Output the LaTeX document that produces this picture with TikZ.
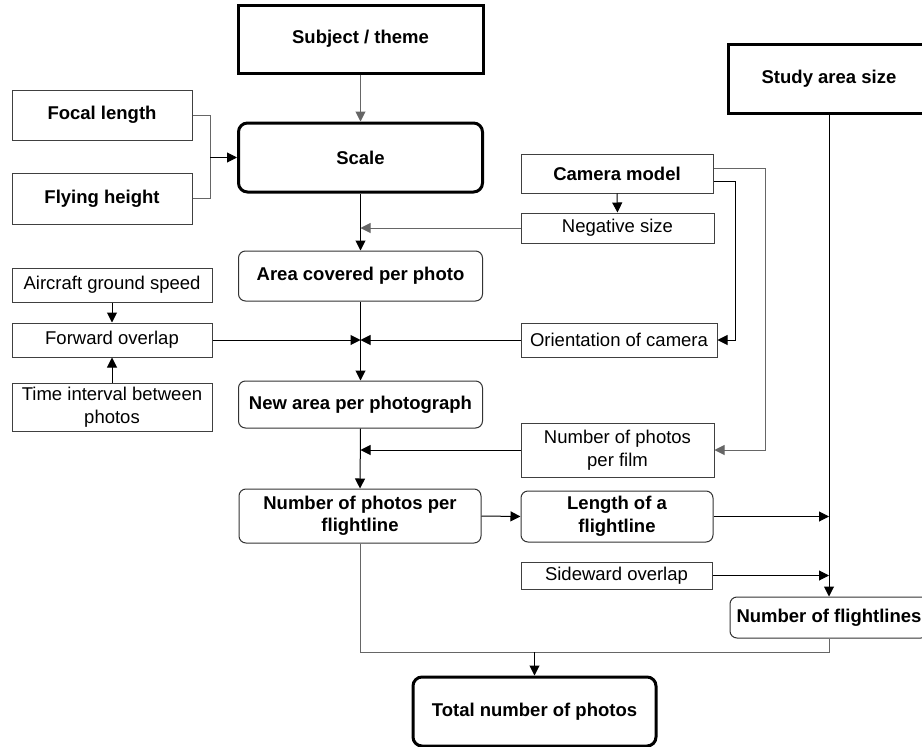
\documentclass[tikz,border=0pt]{standalone}
\usepackage{fontspec}
\setmainfont{Liberation Sans}
\usetikzlibrary{arrows.meta}
\begin{document}
\begin{tikzpicture}[x=1pt,y=-1pt,
  every node/.style={inner sep=0pt,align=center,font=\fontsize{18.5}{22.5}\selectfont},
  thinbox/.style={draw=black!75,line width=1pt},
  thickbox/.style={draw=black,line width=3pt},
  rbox/.style={draw=black!80,line width=1pt,rounded corners=7pt},
  rthick/.style={draw=black,line width=3pt,rounded corners=9pt},
  bf/.style={font=\fontsize{18.5}{22.5}\selectfont\bfseries},
  conn/.style={line width=1pt,draw=black},
  gconn/.style={line width=1pt,draw=black!60},
  arr/.style={-{Triangle[length=10pt,width=10pt]}}
]
\useasboundingbox (0,0) rectangle (922,747);
\fill[white] (0,0) rectangle (922,747);
% nodes
\node[thickbox,bf,minimum width=245,minimum height=68] (subj) at (360.5,39) {Subject / theme};
\node[thinbox,bf,minimum width=180,minimum height=50] (focal) at (102,115) {Focal length};
\node[thinbox,bf,minimum width=180,minimum height=51] (flying) at (102,198.5) {Flying height};
\node[rthick,bf,minimum width=244,minimum height=69] (scale) at (360.5,157.5) {Scale};
\node[thickbox,bf,minimum width=202,minimum height=69] (study) at (829,78.5) {Study area size};
\node[thinbox,bf,minimum width=192,minimum height=39] (camera) at (617,173.5) {Camera model};
\node[thinbox,minimum width=193,minimum height=30] (negative) at (617.5,228) {Negative size};
\node[rbox,bf,minimum width=244,minimum height=50] (area) at (360.5,276) {Area covered per photo};
\node[thinbox,minimum width=200,minimum height=34] (aircraft) at (112,285) {Aircraft ground speed};
\node[thinbox,minimum width=200,minimum height=34] (forward) at (112,340) {Forward overlap};
\node[thinbox,minimum width=200,minimum height=48] (time) at (112,407) {Time interval between\\photos};
\node[thinbox,minimum width=196,minimum height=34] (orient) at (619,340) {Orientation of camera};
\node[rbox,bf,minimum width=244,minimum height=47] (newarea) at (360.5,404.5) {New area per photograph};
\node[thinbox,minimum width=193,minimum height=54] (film) at (617.5,450) {Number of photos\\per film};
\node[rbox,bf,minimum width=242,minimum height=54] (npf) at (360,516) {Number of photos per\\flightline};
\node[rbox,bf,minimum width=192,minimum height=51] (length) at (617,516.5) {Length of a\\flightline};
\node[thinbox,minimum width=191,minimum height=27] (side) at (616.5,575.5) {Sideward overlap};
\node[rbox,bf,minimum width=198,minimum height=41] (nfl) at (829,617.5) {Number of flightlines};
\node[rthick,bf,minimum width=243,minimum height=69] (total) at (534.5,711.5) {Total number of photos};
% connectors
\draw[gconn,arr] (subj.south) -- (scale.north);
\coordinate (j1) at (210,157.5);
\draw[gconn] (focal.east) -| (j1);
\draw[gconn] (flying.east) -| (j1);
\draw[conn,arr] (j1) -- (scale.west);
\draw[conn,arr] (scale.south) -- (area.north);
\draw[gconn,arr] (negative.west) -- (negative.west -| scale.south);
\draw[conn,arr] (camera.south) -- (negative.north);
\draw[gconn,arr] ([yshift=5.5pt]camera.east) -- ++(52,0) |- (film.east);
\draw[conn,arr] ([yshift=-7.5pt]camera.east) -- ++(22,0) |- (orient.east);
\draw[conn,arr] (aircraft.south) -- (forward.north);
\draw[conn,arr] (time.north) -- (forward.south);
\draw[conn,arr] (area.south) -- (newarea.north);
\draw[conn,arr] (forward.east) -- (forward.east -| area.south);
\draw[conn,arr] (orient.west) -- (orient.west -| area.south);
\draw[conn,arr] (newarea.south) -- (npf.north);
\draw[conn,arr] (film.west) -- (film.west -| newarea.south);
\draw[conn,arr] (npf.east) -- (length.west);
\draw[conn,arr] (study.south) -- (study.south |- nfl.north);
\draw[conn,arr] (length.east) -- (length.east -| study.south);
\draw[conn,arr] (side.east) -- (side.east -| study.south);
\coordinate (bot) at (0,652);
\draw[gconn] (npf.south) -- (npf.south |- bot) -- (nfl.south |- bot) -- (nfl.south);
\draw[conn,arr] (total.north |- bot) -- (total.north);
\end{tikzpicture}
\end{document}
